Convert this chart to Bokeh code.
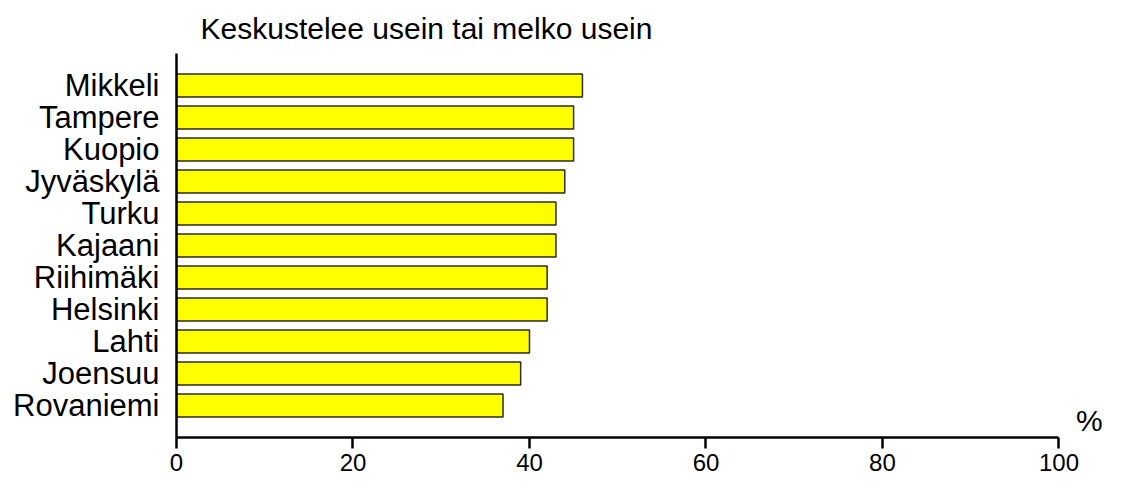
from bokeh.plotting import figure
from bokeh.models import FactorRange, Range1d, FixedTicker
from bokeh.core.properties import value
from bokeh.embed import file_html
from bokeh.resources import INLINE

title_text = "Keskustelee usein tai melko usein"
cities = ["Mikkeli", "Tampere", "Kuopio", "Jyväskylä", "Turku", "Kajaani",
          "Riihimäki", "Helsinki", "Lahti", "Joensuu", "Rovaniemi"]
values = [46, 45, 45, 44, 43, 43, 42, 42, 40, 39, 37]
x_ticks = [0, 20, 40, 60, 80, 100]
unit_label = "%"

FONT = "Liberation Sans"

factors = list(reversed(cities))
p = figure(
    width=1107, height=481,
    y_range=FactorRange(factors=factors, range_padding=0.5, range_padding_units="absolute"),
    x_range=Range1d(0, 105.5),
    output_backend="svg", toolbar_location=None,
    min_border_left=176, min_border_right=0, min_border_bottom=44, min_border_top=0,
)

p.hbar(y=cities, right=values, left=0, height=0.72,
       fill_color="#FFFF00", line_color="#2a2a2a", line_width=1.5)

# unit label to the right of the x axis end
p.text(x=[x_ticks[-1]], y=[cities[-1]], text=[unit_label], x_offset=17, y_offset=15,
       text_font=value(FONT), text_font_size="30px", text_baseline="middle",
       text_align="left", text_color="black")

p.title.text = title_text
p.title.text_font = FONT
p.title.text_font_size = "30px"
p.title.text_font_style = "normal"
p.title.text_color = "black"
p.title.align = "left"
p.title.offset = 24
p.title.standoff = 18

p.xgrid.grid_line_color = None
p.ygrid.grid_line_color = None
p.outline_line_color = None
p.background_fill_color = "white"
p.border_fill_color = "white"

xa = p.xaxis[0]
xa.ticker = FixedTicker(ticks=x_ticks)
xa.bounds = (0, 100)
xa.axis_line_width = 2.5
xa.axis_line_color = "black"
xa.major_tick_line_width = 2.5
xa.major_tick_line_color = "black"
xa.major_tick_out = 11
xa.major_tick_in = 0
xa.minor_tick_line_color = None
xa.major_label_text_font = FONT
xa.major_label_text_font_size = "24px"
xa.major_label_text_color = "black"
xa.major_label_standoff = 5

ya = p.yaxis[0]
ya.axis_line_width = 2.5
ya.axis_line_color = "black"
ya.major_tick_line_color = None
ya.minor_tick_line_color = None
ya.major_tick_out = 0
ya.major_tick_in = 0
ya.major_label_text_font = FONT
ya.major_label_text_font_size = "31px"
ya.major_label_text_color = "black"
ya.major_label_standoff = 17

open("out.html", "w").write(file_html(p, INLINE))
